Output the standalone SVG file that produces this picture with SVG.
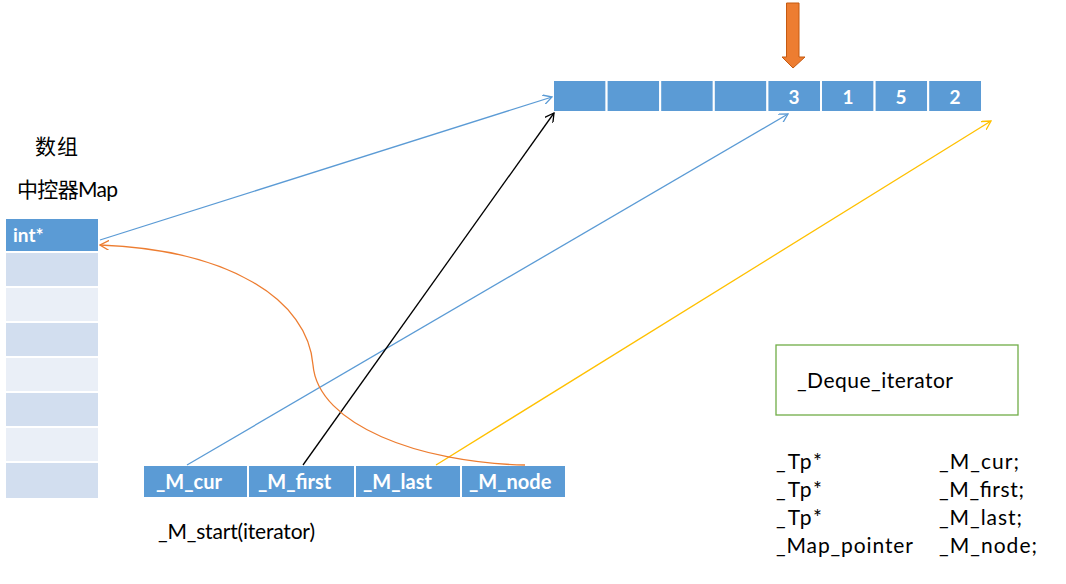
<svg xmlns="http://www.w3.org/2000/svg" width="1066" height="584" viewBox="0 0 1066 584">
<style>
.t{font-family:Lato,"Noto Sans CJK SC",sans-serif;font-size:21px;fill:#000}
.b{font-family:Lato,sans-serif;font-size:20px;font-weight:bold;fill:#fff}
.cell{fill:#5B9BD5;stroke:#fff;stroke-width:2}
.m1{fill:#D2DEEF;stroke:#fff;stroke-width:2}
.m2{fill:#EAEFF7;stroke:#fff;stroke-width:2}
.c{fill:none;stroke-width:1.3}
</style>
<defs>
<marker id="ab" viewBox="0 0 10 10" refX="9" refY="5" markerWidth="10" markerHeight="10" markerUnits="userSpaceOnUse" orient="auto"><path d="M0,0 L9,5 L0,10" fill="none" stroke="#5B9BD5" stroke-width="1.3"/></marker>
<marker id="ak" viewBox="0 0 10 10" refX="9" refY="5" markerWidth="10" markerHeight="10" markerUnits="userSpaceOnUse" orient="auto"><path d="M0,0 L9,5 L0,10" fill="none" stroke="#000" stroke-width="1.3"/></marker>
<marker id="ay" viewBox="0 0 10 10" refX="9" refY="5" markerWidth="10" markerHeight="10" markerUnits="userSpaceOnUse" orient="auto"><path d="M0,0 L9,5 L0,10" fill="none" stroke="#FFC000" stroke-width="1.3"/></marker>
<marker id="ao" viewBox="0 0 10 10" refX="9" refY="5" markerWidth="10" markerHeight="10" markerUnits="userSpaceOnUse" orient="auto"><path d="M0,0 L9,5 L0,10" fill="none" stroke="#ED7D31" stroke-width="1.3"/></marker>
</defs>
<rect width="1066" height="584" fill="#fff"/>
<g id="array">
<rect class="cell" x="553" y="80" width="53.6" height="32"/>
<rect class="cell" x="606.6" y="80" width="53.6" height="32"/>
<rect class="cell" x="660.2" y="80" width="53.6" height="32"/>
<rect class="cell" x="713.8" y="80" width="53.6" height="32"/>
<rect class="cell" x="767.4" y="80" width="53.6" height="32"/>
<rect class="cell" x="821" y="80" width="53.6" height="32"/>
<rect class="cell" x="874.6" y="80" width="53.6" height="32"/>
<rect class="cell" x="928.2" y="80" width="53.8" height="32"/>
<text class="b" x="794" y="104" text-anchor="middle" style="font-size:19px">3</text>
<text class="b" x="848" y="104" text-anchor="middle" style="font-size:19px">1</text>
<text class="b" x="901" y="104" text-anchor="middle" style="font-size:19px">5</text>
<text class="b" x="955" y="104" text-anchor="middle" style="font-size:19px">2</text>
</g>
<g id="down-arrow">
<path d="M786.5,3 H799 V57 H805 L793,68 L782,57 H786.5 Z" fill="#ED7D31" stroke="#C55A11" stroke-width="1"/>
</g>
<g id="labels">
<text class="t" x="35" y="154" textLength="43">数组</text>
<text class="t" x="17" y="197" textLength="101">中控器Map</text>
<text class="t" x="158" y="539" textLength="157">_M_start(iterator)</text>
</g>
<g id="map">
<rect class="cell" x="5" y="218" width="94" height="34"/>
<rect class="m1" x="5" y="252" width="94" height="35"/>
<rect class="m2" x="5" y="287" width="94" height="35"/>
<rect class="m1" x="5" y="322" width="94" height="35"/>
<rect class="m2" x="5" y="357" width="94" height="35"/>
<rect class="m1" x="5" y="392" width="94" height="35"/>
<rect class="m2" x="5" y="427" width="94" height="35"/>
<rect class="m1" x="5" y="462" width="94" height="37"/>
<text class="b" x="13" y="242" style="font-size:19px">int*</text>
</g>
<g id="start-iterator">
<rect class="cell" x="143" y="465" width="105" height="33"/>
<rect class="cell" x="248" y="465" width="107" height="33"/>
<rect class="cell" x="355" y="465" width="106" height="33"/>
<rect class="cell" x="461" y="465" width="105" height="33"/>
<text class="b" x="156" y="489">_M_cur</text>
<text class="b" x="258" y="489">_M_first</text>
<text class="b" x="363" y="489">_M_last</text>
<text class="b" x="469" y="489">_M_node</text>
</g>
<g id="deque-iterator">
<rect x="776" y="345" width="242" height="70" fill="#fff" stroke="#70AD47" stroke-width="1.3"/>
<text class="t" x="797" y="388" textLength="156">_Deque_iterator</text>
</g>
<g id="members">
<text class="t" x="776" y="469" textLength="46">_Tp*</text>
<text class="t" x="776" y="497" textLength="46">_Tp*</text>
<text class="t" x="776" y="525" textLength="46">_Tp*</text>
<text class="t" x="776" y="553" textLength="137">_Map_pointer</text>
<text class="t" x="939" y="469" textLength="80">_M_cur;</text>
<text class="t" x="939" y="497" textLength="85">_M_first;</text>
<text class="t" x="939" y="525" textLength="83">_M_last;</text>
<text class="t" x="939" y="553" textLength="98">_M_node;</text>
</g>
<g id="connectors">
<path class="c" d="M100,240 L552,97" stroke="#5B9BD5" marker-end="url(#ab)"/>
<path class="c" d="M187,465 L788,114" stroke="#5B9BD5" marker-end="url(#ab)"/>
<path class="c" d="M303,465 L554,113" stroke="#000" marker-end="url(#ak)"/>
<path class="c" d="M436,465 L991,121" stroke="#FFC000" marker-end="url(#ay)"/>
<path class="c" d="M525,465 C420,463 318,425 313,365 C308,300 230,250 100,245" stroke="#ED7D31" marker-end="url(#ao)"/>
</g>
</svg>
